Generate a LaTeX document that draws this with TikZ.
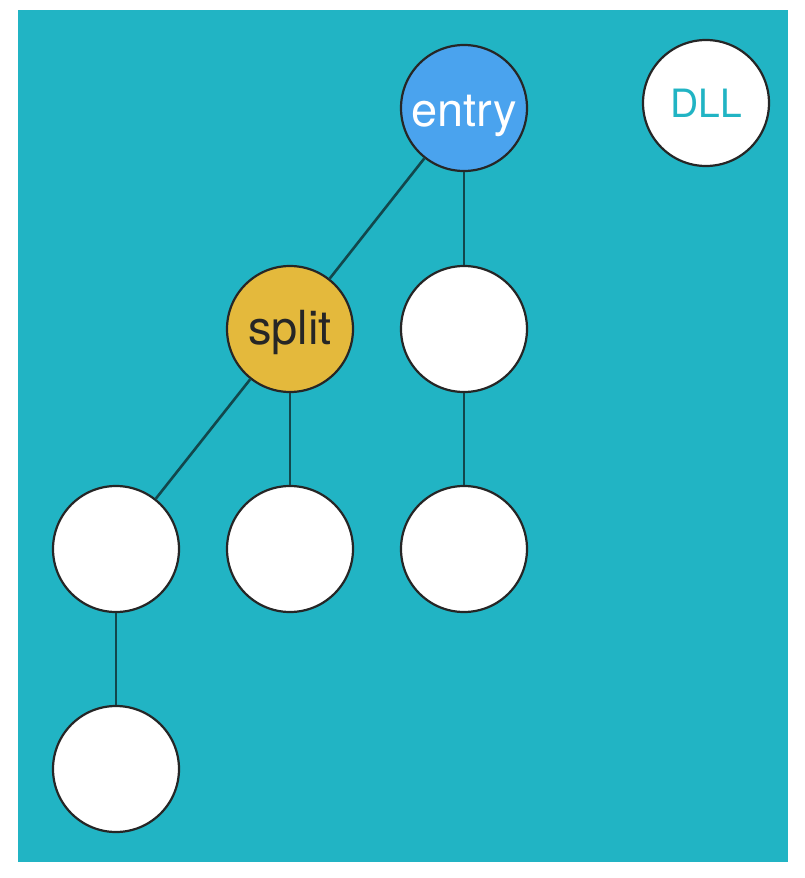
\documentclass[tikz,border=0pt]{standalone}
\usepackage{fontspec}
\setmainfont{TeX Gyre Heros}
\definecolor{bgteal}{HTML}{21B4C4}
\definecolor{entryblue}{HTML}{4AA3EE}
\definecolor{splityellow}{HTML}{E4B93C}
\definecolor{edgecol}{HTML}{12474C}
\begin{document}
\begin{tikzpicture}[x=1pt,y=-1pt,
  treenode/.style={circle,draw=black!85,line width=2.2pt,minimum size=126pt,inner sep=0pt,fill=white},
  edge/.style={draw=edgecol,line width=2.6pt}]
\useasboundingbox (0,0) rectangle (804,878);
\fill[bgteal] (18,10) rectangle (788,862);
\node[treenode,fill=entryblue,text=white,font=\fontsize{47}{50}\selectfont,text height=36pt,text depth=0pt] (entry) at (464,108) {entry};
\node[treenode,text=bgteal,font=\fontsize{39}{44}\selectfont] (dll) at (706,103) {DLL};
\node[treenode,fill=splityellow,text=black!85,font=\fontsize{47}{50}\selectfont,text height=32pt,text depth=2pt] (split) at (290,329) {split};
\node[treenode] (r1) at (464,329) {};
\node[treenode] (a) at (116,549) {};
\node[treenode] (b) at (290,549) {};
\node[treenode] (c) at (464,549) {};
\node[treenode] (d) at (116,769) {};
\draw[edge] (entry) -- (split);
\draw[edge] (entry) -- (r1);
\draw[edge] (split) -- (a);
\draw[edge] (split) -- (b);
\draw[edge] (r1) -- (c);
\draw[edge] (a) -- (d);
\end{tikzpicture}
\end{document}
